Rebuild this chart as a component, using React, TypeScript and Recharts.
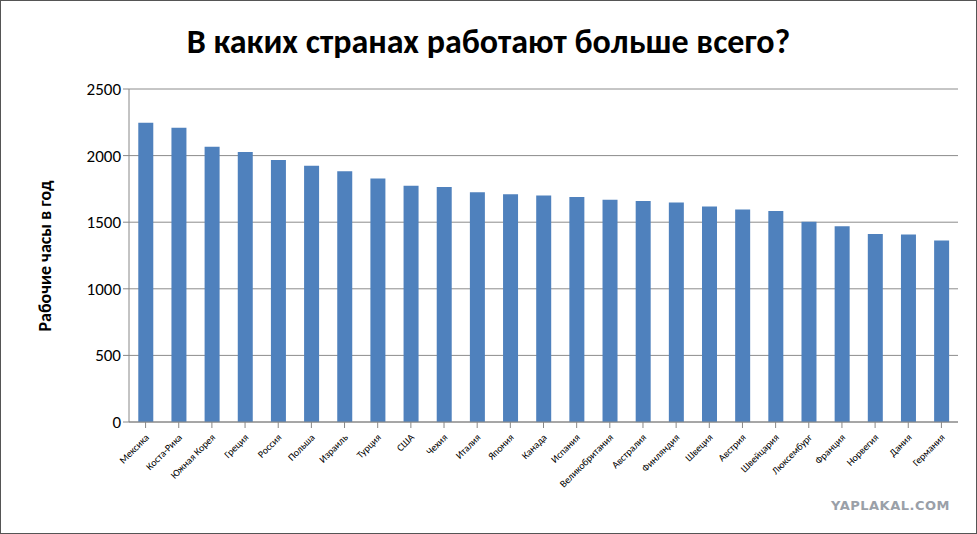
import { BarChart, Bar, XAxis, YAxis, CartesianGrid } from 'recharts'

const countries = ['Мексика', 'Коста-Рика', 'Южная Корея', 'Греция', 'Россия', 'Польша', 'Израиль', 'Турция', 'США', 'Чехия', 'Италия', 'Япония', 'Канада', 'Испания', 'Великобритания', 'Австралия', 'Финляндия', 'Швеция', 'Австрия', 'Швейцария', 'Люксембург', 'Франция', 'Норвегия', 'Дания', 'Германия']
const hours = [2246, 2209, 2067, 2027, 1967, 1923, 1883, 1828, 1773, 1765, 1725, 1710, 1701, 1690, 1668, 1660, 1647, 1618, 1595, 1585, 1504, 1469, 1411, 1407, 1363]
const yTicks = [0, 500, 1000, 1500, 2000, 2500]

const data = countries.map((name, i) => ({ name, hours: hours[i] }))

const font = 'Calibri, Carlito, "Liberation Sans", Arial, sans-serif'

function CountryTick({ x, y, payload }: any) {
  return (
    <text x={x + 4} y={y + 8} transform={`rotate(-45 ${x + 4} ${y + 8})`} textAnchor="end" fontSize={10} fontFamily={font} fill="#000">
      {payload.value}
    </text>
  )
}

export default function App() {
  return (
    <div style={{ position: 'fixed', left: 0, top: 0, width: 977, height: 534, background: '#fff', border: '1px solid #555', boxSizing: 'border-box', fontFamily: font }}>
      <div style={{ position: 'absolute', top: 20, width: '100%', textAlign: 'center', fontSize: 34, fontWeight: 'bold' }}>
        В каких странах работают больше всего?
      </div>
      <div style={{ position: 'absolute', left: 44, top: 255, transform: 'translate(-50%, -50%) rotate(-90deg)', whiteSpace: 'nowrap', fontSize: 18, fontWeight: 'bold' }}>
        Рабочие часы в год
      </div>
      <div style={{ position: 'absolute', right: 26, bottom: 20, fontSize: 13, fontWeight: 'bold', color: '#9aa0a8', fontFamily: '"DejaVu Sans", sans-serif', letterSpacing: 0.5 }}>
        YAPLAKAL.COM
      </div>
      <BarChart width={977} height={534} data={data} margin={{ top: 88, right: 20, bottom: 0, left: 73 }} barCategoryGap="28%">
        <CartesianGrid vertical={false} stroke="#8c8c8c" />
        <XAxis dataKey="name" interval={0} tick={<CountryTick />} tickLine={{ stroke: '#888' }} axisLine={{ stroke: '#888' }} height={113} />
        <YAxis domain={[0, 2500]} ticks={yTicks} width={55} tick={{ fontSize: 17, fill: '#000', fontFamily: font }} tickLine={{ stroke: '#888' }} axisLine={{ stroke: '#888' }} />
        <Bar dataKey="hours" fill="#4f81bd" isAnimationActive={false} />
      </BarChart>
    </div>
  )
}
